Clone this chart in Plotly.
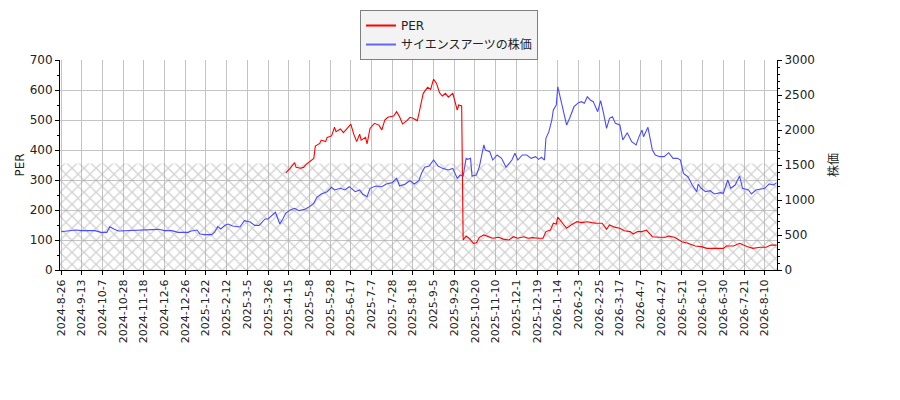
import plotly.graph_objs as go

# trading-day index (0 = 2024-8-26) and values
price_day = [0, 5, 10, 14, 23, 27, 31, 33, 36, 39, 45, 50, 59, 66, 70, 75, 79, 86, 88, 92,
             94, 97, 102, 104, 106, 108, 111, 113, 116, 121, 124, 128, 131, 134, 138, 140, 145, 147, 148, 150,
             152, 155, 158, 161, 165, 168, 171, 173, 176, 180, 183, 185, 189, 192, 195, 199, 202, 204, 207, 209,
             213, 217, 220, 224, 227, 229, 233, 236, 239, 242, 244, 246, 249, 252, 255, 258, 262, 265, 268, 270,
             272, 274, 275, 277, 278, 281, 283, 286, 287, 290, 292, 295, 298, 301, 305, 307, 309, 312, 315, 318,
             321, 323, 325, 327, 328, 330, 332, 333, 335, 336, 338, 340, 342, 344, 347, 350, 352, 354, 356, 358,
             360, 363, 365, 367, 369, 371, 373, 375, 378, 380, 383, 386, 389, 391, 393, 394, 397, 400, 402, 405,
             408, 411, 414, 417, 419, 421, 424, 427, 430, 431, 433, 436, 439, 442, 446, 448, 451, 453, 456, 459,
             461, 465, 467, 470, 473, 476, 479, 482, 484]
price = [547, 562, 571, 562, 562, 538, 538, 619, 581, 557, 562, 571, 571, 581, 562, 562, 538, 538, 557, 571,
         514, 505, 505, 543, 619, 586, 638, 657, 629, 614, 705, 686, 638, 638, 729, 729, 824, 714, 657, 729,
         810, 857, 881, 848, 867, 905, 952, 1038, 1086, 1119, 1181, 1143, 1167, 1143, 1190, 1119, 1143, 1086, 1048, 1167,
         1200, 1190, 1229, 1248, 1310, 1200, 1229, 1276, 1229, 1276, 1390, 1467, 1486, 1571, 1486, 1452, 1429, 1452, 1310, 1357,
         1343, 1595, 1581, 1595, 1343, 1357, 1476, 1786, 1714, 1690, 1571, 1643, 1595, 1467, 1571, 1667, 1571, 1643, 1643, 1595,
         1619, 1581, 1610, 1571, 1881, 1976, 2143, 2286, 2357, 2619, 2429, 2262, 2071, 2167, 2333, 2390, 2405, 2381, 2476, 2429,
         2405, 2262, 2419, 2238, 2024, 2167, 2190, 2095, 2071, 1857, 1962, 1833, 1786, 1905, 2000, 1905, 2038, 1714, 1643, 1619,
         1619, 1676, 1595, 1595, 1571, 1381, 1333, 1214, 1119, 1229, 1167, 1119, 1133, 1086, 1105, 1095, 1286, 1167, 1214, 1343,
         1167, 1143, 1086, 1143, 1152, 1167, 1229, 1214, 1248]

per_day = [152, 155, 158, 159, 162, 164, 166, 168, 171, 172, 175, 176, 179, 180, 183, 185, 186, 189, 191, 193,
           196, 198, 200, 202, 203, 206, 207, 209, 212, 215, 217, 219, 221, 225, 227, 229, 231, 234, 236, 238,
           241, 242, 244, 245, 248, 250, 252, 254, 256, 258, 260, 262, 265, 266, 268, 269, 271, 272, 274, 276,
           279, 281, 283, 286, 289, 292, 296, 299, 303, 306, 309, 313, 316, 319, 323, 326, 328, 331, 333, 335,
           336, 339, 342, 345, 349, 352, 356, 359, 362, 366, 369, 371, 375, 378, 381, 385, 387, 390, 393, 396,
           400, 404, 409, 411, 415, 420, 424, 429, 433, 437, 441, 448, 450, 455, 459, 464, 468, 473, 477, 480, 484]
per = [324, 339, 358, 342, 339, 342, 353, 361, 372, 413, 422, 433, 428, 442, 447, 476, 461, 470, 458, 469,
       486, 453, 428, 453, 433, 442, 420, 472, 489, 483, 467, 500, 509, 513, 528, 511, 487, 498, 509, 506,
       498, 520, 567, 589, 609, 602, 636, 622, 591, 580, 589, 576, 589, 572, 533, 550, 547, 100, 113, 106,
       89, 91, 109, 117, 111, 106, 109, 103, 100, 111, 106, 111, 106, 108, 106, 106, 128, 133, 156, 153,
       176, 158, 139, 150, 161, 158, 161, 158, 156, 156, 136, 150, 142, 139, 131, 128, 120, 128, 128, 133,
       111, 109, 109, 113, 109, 94, 89, 80, 78, 72, 72, 72, 80, 80, 89, 78, 72, 76, 76, 83, 83]

hatch_day = [-0.7, 484.3]
hatch_level = [355, 355]

tick_labels = ["2024-8-26", "2024-9-13", "2024-10-7", "2024-10-28", "2024-11-18", "2024-12-6",
               "2024-12-26", "2025-1-22", "2025-2-12", "2025-3-5", "2025-3-26", "2025-4-15",
               "2025-5-8", "2025-5-28", "2025-6-17", "2025-7-7", "2025-7-28", "2025-8-18",
               "2025-9-5", "2025-9-29", "2025-10-20", "2025-11-10", "2025-12-1", "2025-12-19",
               "2026-1-14", "2026-2-3", "2026-2-25", "2026-3-17", "2026-4-7", "2026-4-27",
               "2026-5-21", "2026-6-10", "2026-6-30", "2026-7-21", "2026-8-10"]
tick_step = 14  # one label every 14 trading days

FONT = "DejaVu Sans, Noto Sans CJK JP"
GRID = "#c4c4c4"
RED = "red"
BLUE = "#4b4bff"

data = [
    go.Scatter(x=hatch_day, y=hatch_level, mode="lines", line=dict(width=0), fill="tozeroy",
               fillcolor="rgba(0,0,0,0)",
               fillpattern=dict(shape="x", size=8.5, solidity=0.28, fgcolor="#a4a4a4", bgcolor="rgba(0,0,0,0)"),
               showlegend=False, hoverinfo="skip"),
    go.Scatter(x=per_day, y=per, mode="lines", line=dict(color=RED, width=1.1), name="PER",
               showlegend=False),
    go.Scatter(x=price_day, y=price, mode="lines", line=dict(color=BLUE, width=1.1),
               name="サイエンスアーツの株価", yaxis="y2", showlegend=False),
    # legend-only entries, drawn with a thicker key line
    go.Scatter(x=[None], y=[None], mode="lines", line=dict(color=RED, width=2), name="PER"),
    go.Scatter(x=[None], y=[None], mode="lines", line=dict(color="#6464ff", width=2),
               name="サイエンスアーツの株価"),
]

# the page body adds an 8px offset, so margins are shifted to compensate
layout = go.Layout(
    width=900, height=400,
    margin=dict(l=52, r=131, t=52, b=138, autoexpand=False),
    paper_bgcolor="white", plot_bgcolor="white",
    font=dict(family=FONT, size=12, color="#222222"),
    showlegend=True,
    legend=dict(x=0.5425, y=1.238, xanchor="center", yanchor="top", bgcolor="#f3f3f3",
                bordercolor="#808080", borderwidth=1, font=dict(size=12), tracegroupgap=0,
                itemwidth=30),
    xaxis=dict(range=[-0.7, 484.3], tickmode="array",
               tickvals=[i * tick_step for i in range(len(tick_labels))], ticktext=tick_labels,
               tickangle=-90, tickfont=dict(size=11), ticks="outside", ticklen=4, tickcolor="black",
               showgrid=True, gridcolor=GRID, gridwidth=1, automargin=False,
               showline=True, linecolor="black", linewidth=1, zeroline=False),
    yaxis=dict(title=dict(text="PER", standoff=2, font=dict(size=12)), range=[0, 700], dtick=100,
               ticks="outside", ticklen=4, tickcolor="black", automargin=False,
               minor=dict(dtick=50, ticks="outside", ticklen=2, tickcolor="black", showgrid=False),
               showgrid=True, gridcolor=GRID, gridwidth=1,
               showline=True, linecolor="black", linewidth=1, zeroline=False),
    yaxis2=dict(title=dict(text="株価", standoff=15, font=dict(size=12)), range=[0, 3000], dtick=500,
                overlaying="y", side="right", automargin=False,
                ticks="outside", ticklen=4, tickcolor="black",
                minor=dict(dtick=100, ticks="outside", ticklen=2, tickcolor="black", showgrid=False),
                showgrid=False, showline=True, linecolor="black", linewidth=1, zeroline=False),
)

fig = go.Figure(data=data, layout=layout)
fig.write_html("out.html")
